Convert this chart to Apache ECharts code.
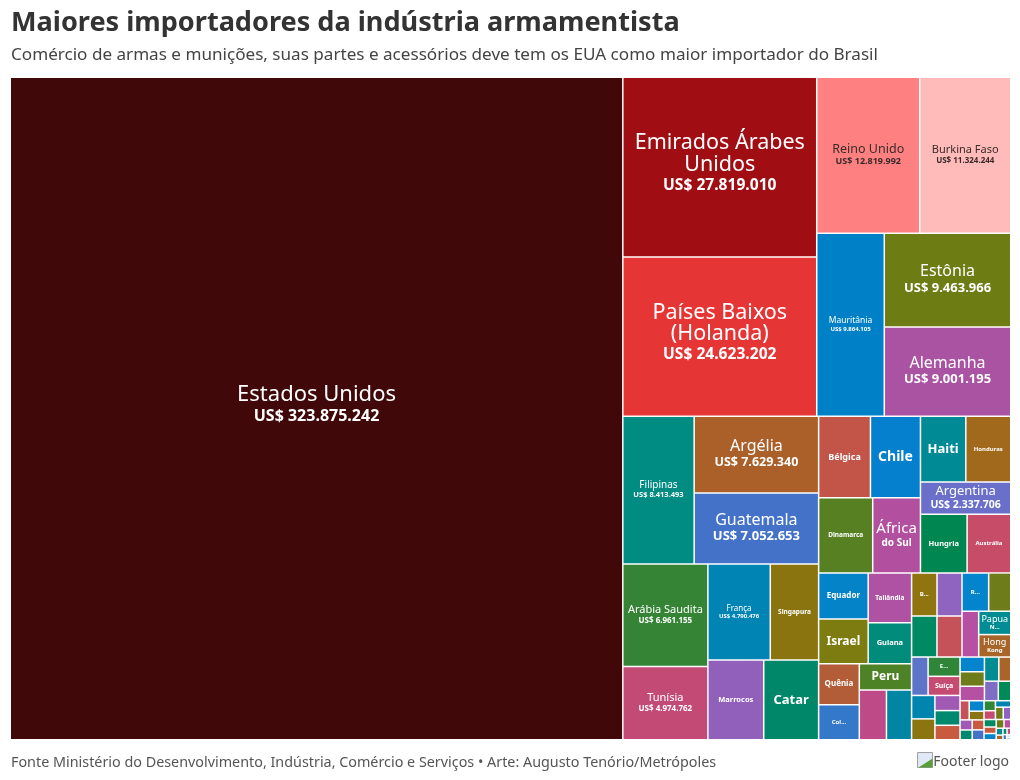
<!DOCTYPE html>
<html>
<head>
<meta charset="utf-8">
<title>Maiores importadores da indústria armamentista</title>
<script src="https://cdn.jsdelivr.net/npm/echarts@6/dist/echarts.min.js"></script>
<style>
  html, body { margin: 0; padding: 0; background: #fff; }
  #main { width: 1020px; height: 780px; }
</style>
</head>
<body>
<div id="main"></div>
<script>
var FONT = '"Noto Sans", sans-serif';

var titleText = 'Maiores importadores da indústria armamentista';
var subtitleText = 'Comércio de armas e munições, suas partes e acessórios deve tem os EUA como maior importador do Brasil';
var footerText = 'Fonte Ministério do Desenvolvimento, Indústria, Comércio e Serviços • Arte: Augusto Tenório/Metrópoles';
var logoText = 'Footer logo';

// paises, do maior para o menor; celulas sem rotulo ficam com nome vazio
var names = [
    'Estados Unidos', 'Emirados Árabes Unidos', 'Países Baixos (Holanda)', 'Reino Unido', 'Burkina Faso',
    'Mauritânia', 'Estônia', 'Alemanha', 'Filipinas', 'Argélia', 'Guatemala', 'Arábia Saudita', 'Tunísia',
    'França', 'Singapura', 'Marrocos', 'Catar', 'Bélgica', 'Chile', 'Dinamarca', 'África do Sul',
    'Haiti', 'Honduras', 'Argentina', 'Hungria', 'Austrália', 'Equador', 'Israel', 'Tailândia', 'Guiana',
    'Quênia', 'Col...', 'Peru', '', '', 'B...', '', '', '', 'R...', '', '', 'Papua N...', 'Hong Kong',
    '', 'E...', 'Suíça', '', '', '', '', '', '', '', '', '', '', '', '',
    '', '', '', '', '', '', '', '', '', '', '', '',
    '', '', '', '', '', '', '', '', '', '', '', ''
];
var values = [
    323875242, 27819010, 24623202, 12819992, 11324244,
    9864105, 9463966, 9001195, 8413493, 7629340, 7052653, 6961155, 4974762,
    4790476, 3710000, 3550000, 3490000, 3380000, 3260000, 3240000, 2860000,
    2380000, 2360000, 2337706, 2180000, 2040000, 1820000, 1775000, 1730000, 1420000,
    1325000, 1140000, 1090000, 1080000, 1000000, 875000, 860000, 830000, 820000, 815000, 675000, 610000, 598000, 575000,
    505000, 492000, 487000, 436000, 388000, 304000, 295000, 290000, 286000, 283000, 281000, 277000, 230000, 216000, 194000,
    140000, 124000, 103000, 98000, 95000, 94000, 93000, 91000, 80000, 79000, 77000, 74000,
    73000, 63000, 61000, 54000, 47000, 37000, 25000, 21000, 19000, 15000, 11000, 6000
];
var colors = [
    '#400808', '#a00e14', '#e53535', '#ff8080', '#ffbaba',
    '#0081c7', '#6e7c14', '#ab53a3', '#008c83', '#aa6028', '#4472c9', '#358435', '#c44a76',
    '#0084b4', '#8a7410', '#9160bb', '#00876a', '#c35548', '#0480cf', '#568022', '#b34f9f',
    '#008a96', '#a0691c', '#6a70c9', '#008650', '#c74c68', '#0583c8', '#7d7c10', '#af52a4', '#008b7a',
    '#b25d38', '#3478ca', '#4e8226', '#bf4a88', '#0086a2', '#8f7410', '#8e64c0', '#008a64', '#c45258', '#0484cd', '#6f7c1a', '#b550a2', '#008c92', '#a8652a',
    '#5d74c9', '#2f8638', '#c54b70', '#0086ae', '#8a7510', '#a05ab4', '#00896e', '#c85a40', '#0484cd', '#6f7c1a', '#b550a2', '#008c92', '#a8652a', '#7f6cc4', '#008a58',
    '#c45258', '#0484cd', '#8a7510', '#a05ab4', '#00896e', '#c85a40', '#4472c9', '#2f8638', '#c54b70', '#0086ae', '#6f7c1a', '#8e64c0',
    '#008a64', '#c85a40', '#0484cd', '#6f7c1a', '#b550a2', '#008c92', '#a8652a', '#00896e', '#c54b70', '#4472c9', '#d8e4e8', '#0484cd'
];

// tamanho do rotulo: [nome, segunda linha]; sem segunda linha o nome vai em negrito
var labelSizes = {
    'Estados Unidos': [22, 16], 'Emirados Árabes Unidos': [21.5, 15.6], 'Países Baixos (Holanda)': [21.5, 15.6],
    'Reino Unido': [12.5, 9], 'Burkina Faso': [11, 8], 'Mauritânia': [8.5, 6], 'Estônia': [16, 13],
    'Alemanha': [16, 13], 'Filipinas': [10, 7.5], 'Argélia': [16, 12.5], 'Guatemala': [16, 13],
    'Arábia Saudita': [11, 8], 'Tunísia': [11, 8], 'França': [8, 6], 'Singapura': [6.5], 'Marrocos': [7.5],
    'Catar': [13], 'Bélgica': [9], 'Chile': [14], 'Dinamarca': [6.5], 'África do Sul': [15, 10],
    'Haiti': [13], 'Honduras': [6], 'Argentina': [13, 10.5], 'Hungria': [7.5], 'Austrália': [6],
    'Equador': [8], 'Israel': [12], 'Tailândia': [6.5], 'Guiana': [7.5], 'Quênia': [8], 'Col...': [6],
    'Peru': [12], 'B...': [6], 'R...': [6], 'Papua N...': [9, 6], 'Hong Kong': [9, 6], 'E...': [6], 'Suíça': [7]
};
var nameLines = {
    'Emirados Árabes Unidos': ['Emirados Árabes', 'Unidos'],
    'Países Baixos (Holanda)': ['Países Baixos', '(Holanda)'],
    'África do Sul': ['África'],
    'Papua N...': ['Papua'],
    'Hong Kong': ['Hong']
};
var boldLines = { 'África do Sul': 'do Sul', 'Papua N...': 'N...', 'Hong Kong': 'Kong' };
var darkLabels = ['Reino Unido', 'Burkina Faso'];

function money(v) {
    return 'US$ ' + String(v).replace(/\B(?=(\d{3})+$)/g, '.');
}

function leafLabel(name, value) {
    var sizes = labelSizes[name];
    if (!sizes) return { show: false };
    var color = darkLabels.indexOf(name) >= 0 ? '#3a2a2a' : '#fff';
    var regular = nameLines[name] || [name];
    var nameHeight = sizes[0];
    var boldHeight = (sizes[1] || sizes[0]) * 1.25;
    var lines = regular.map(function (t) {
        return '{' + (sizes[1] ? 'n' : 'v') + '|' + t + '}';
    });
    if (sizes[1]) lines.push('{v|' + (boldLines[name] || money(value)) + '}');
    var blockHeight = sizes[1] ? regular.length * nameHeight + boldHeight : boldHeight;
    var nudge = sizes[0] > 20 ? 3.3 : 0;
    return {
        show: true,
        // a caixa do rotulo ocupa a celula toda, entao centraliza pelo deslocamento
        position: ['50%', '50%'],
        offset: [0, -blockHeight / 2 - nudge],
        padding: 0,
        overflow: 'none',
        align: 'center',
        verticalAlign: 'top',
        formatter: lines.join('\n'),
        rich: {
            n: { fontFamily: FONT, fontSize: sizes[0], lineHeight: nameHeight, color: color, align: 'center' },
            v: { fontFamily: FONT, fontSize: sizes[1] || sizes[0], fontWeight: 'bold', lineHeight: boldHeight, color: color, align: 'center' }
        }
    };
}

// divide a lista ao meio pelo valor, dois filhos por no
function binaryTree(items) {
    if (items.length === 1) return items[0];
    var total = items.reduce(function (s, d) { return s + d.value; }, 0);
    var k = 1, bestDiff = Infinity, run = 0;
    for (var i = 1; i < items.length; i++) {
        run += items[i - 1].value;
        var diff = Math.abs(run - total / 2);
        if (diff < bestDiff) { bestDiff = diff; k = i; }
    }
    return { children: [binaryTree(items.slice(0, k)), binaryTree(items.slice(k))] };
}

var leaves = names.map(function (name, i) {
    return {
        name: name,
        value: values[i],
        itemStyle: { color: colors[i] },
        label: leafLabel(name, values[i])
    };
});

var myChart = echarts.init(document.getElementById('main'));

myChart.setOption({
    animation: false,
    title: [
        { text: titleText, left: 11, top: 9.5, padding: 0, textStyle: { fontFamily: FONT, fontSize: 27.1, fontWeight: 'bold', color: '#333' } },
        { text: subtitleText, left: 11, top: 47, padding: 0, textStyle: { fontFamily: FONT, fontSize: 17.1, fontWeight: 'normal', color: '#444' } },
        { text: footerText, left: 11, top: 755.5, padding: 0, textStyle: { fontFamily: FONT, fontSize: 14.35, fontWeight: 'normal', color: '#555' } },
        { text: logoText, right: 11, top: 755.5, padding: 0, textStyle: { fontFamily: FONT, fontSize: 14, fontWeight: 'normal', color: '#555' } }
    ],
    graphic: [{
        type: 'group', left: 917, top: 752,
        children: [
            { type: 'rect', shape: { x: 0, y: 0, width: 15, height: 15 }, style: { fill: '#dfe8f5', stroke: '#a0a0a0', lineWidth: 1 } },
            { type: 'polygon', shape: { points: [[1, 15], [15, 6], [15, 15]] }, style: { fill: '#5a9e3c' } }
        ]
    }],
    series: [{
        type: 'treemap',
        left: 11,
        top: 78,
        width: 999,
        height: 661,
        sort: false,
        squareRatio: 1e-6,
        roam: false,
        nodeClick: false,
        silent: true,
        visibleMin: 0,
        breadcrumb: { show: false },
        itemStyle: { borderWidth: 0, gapWidth: 1.5, borderColor: '#fff' },
        emphasis: { disabled: true },
        data: binaryTree(leaves).children
    }]
});
</script>
</body>
</html>
